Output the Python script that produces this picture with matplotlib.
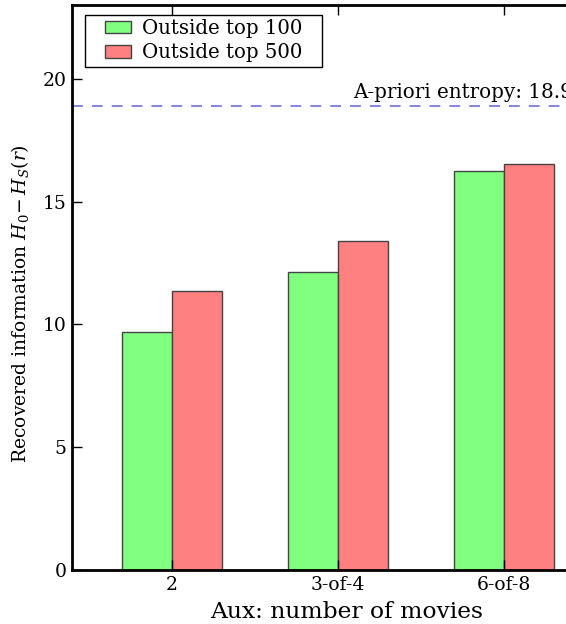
"""
Recovered information per aux size, two popularity cut-offs
"""
import numpy as np
import matplotlib
matplotlib.use("Agg")
import matplotlib.pyplot as plt
from matplotlib.patches import Rectangle

categories = ["2", "3-of-4", "6-of-8"]
outside_top_100 = [9.69, 12.15, 16.26]
outside_top_500 = [11.35, 13.41, 16.53]
apriori_entropy = 18.9

plt.rcParams["font.family"] = "DejaVu Serif"
plt.rcParams["mathtext.fontset"] = "dejavuserif"

W, H, DPI = 566, 624, 100
fig = plt.figure(figsize=(W / DPI, H / DPI), dpi=DPI)
# axes run off the right edge, as in the cropped original
ax = fig.add_axes([72 / W, 54 / H, 532 / W, 565 / H])

x = np.arange(len(categories))
width = 0.3
ax.bar(x - width / 2, outside_top_100, width, color="#80ff80",
       edgecolor="#444444", linewidth=1.0, label="Outside top 100")
ax.bar(x + width / 2, outside_top_500, width, color="#ff8080",
       edgecolor="#444444", linewidth=1.0, label="Outside top 500")

ax.axhline(apriori_entropy, color="#7a7ae0", linestyle=(0, (6, 5)), linewidth=1.3)
ax.text(1.09, apriori_entropy + 0.15, "A-priori entropy: 18.9",
        ha="left", va="bottom", fontsize=14.3)

ax.set_xlim(-0.6, 2.6)
ax.set_ylim(0, 23)
ax.set_xticks(x)
ax.set_xticklabels(categories)
ax.set_yticks([0, 5, 10, 15, 20])
ax.tick_params(direction="in", top=True, right=True, length=7, width=1,
               labelsize=13.5, pad=4)
for s in ax.spines.values():
    s.set_linewidth(2)

ax.set_xlabel("Aux: number of movies", fontsize=16.8)
ax.xaxis.set_label_coords(0.516, -0.055)
ax.set_ylabel(r"Recovered information $H_0\!-H_S(r)$", fontsize=13.5)
ax.yaxis.set_label_coords(-0.078, 0.472)

# old-style legend box: wide side padding, tight top/bottom
ax.add_patch(Rectangle((0.0244, 0.890), 0.446, 0.092, transform=ax.transAxes,
                       facecolor="white", edgecolor="black", linewidth=1.0,
                       zorder=4))
leg = ax.legend(loc="upper left", bbox_to_anchor=(0.062, 0.975), fontsize=14.2,
                frameon=False, borderaxespad=0, borderpad=0, handlelength=1.3,
                handleheight=0.6, handletextpad=0.6, labelspacing=0.26)
leg.set_zorder(5)

fig.savefig("out.png", dpi=DPI)
